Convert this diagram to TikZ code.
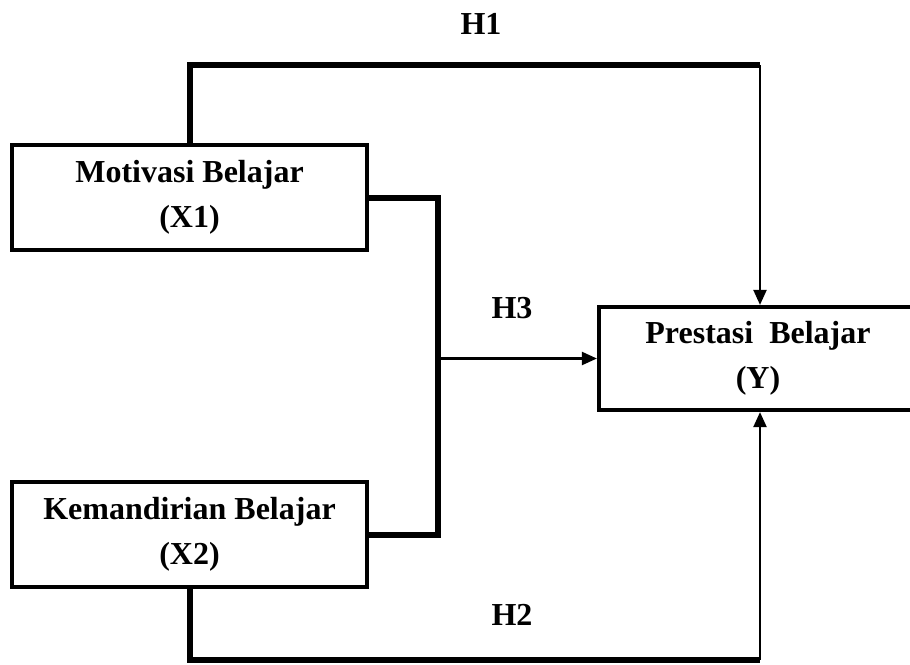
\documentclass[tikz,border=0pt]{standalone}
\usepackage{fontspec}
\setmainfont{Liberation Serif}
\usetikzlibrary{arrows.meta}
\begin{document}
\begin{tikzpicture}[x=0.5pt,y=-0.5pt,
  box/.style={draw,line width=2.1pt,rectangle,inner sep=0pt,align=center,
    font=\fontsize{16pt}{22.5pt}\selectfont\bfseries},
  lbl/.style={inner sep=0pt,font=\fontsize{16pt}{19pt}\selectfont\bfseries},
  heavy/.style={line width=3pt,line join=miter},
  lightarrow/.style={line width=1.1pt,-{Triangle[length=7.5pt,width=6.5pt]}}]
\useasboundingbox (0,0) rectangle (910,664);
\node[box,minimum width=177.5pt,minimum height=52.5pt] (X1) at (189.5,197.5) {Motivasi Belajar\\(X1)};
\node[box,minimum width=177.5pt,minimum height=52.5pt] (X2) at (189.5,534.5) {Kemandirian Belajar\\(X2)};
\node[box,minimum width=159pt,minimum height=51.5pt] (Y) at (758,358.5) {Prestasi\ \ Belajar\\(Y)};
\coordinate (c1) at (760,65);
\coordinate (c2) at (760,660);
\coordinate (m) at (438,358.5);
\draw[heavy] (X1.north) |- (c1);
\draw[lightarrow] (c1) -- (c1 |- Y.north);
\draw[heavy] (X2.south) |- (c2);
\draw[lightarrow] (c2) -- (c2 |- Y.south);
\draw[heavy] (X1.east) -| (m) |- (X2.east);
\draw[lightarrow] (m) -- (Y.west);
\node[lbl] (h1) at (481,24) {H1};
\node[lbl] (h3) at (512,308) {H3};
\node[lbl] (h2) at (512,615) {H2};
\end{tikzpicture}
\end{document}
